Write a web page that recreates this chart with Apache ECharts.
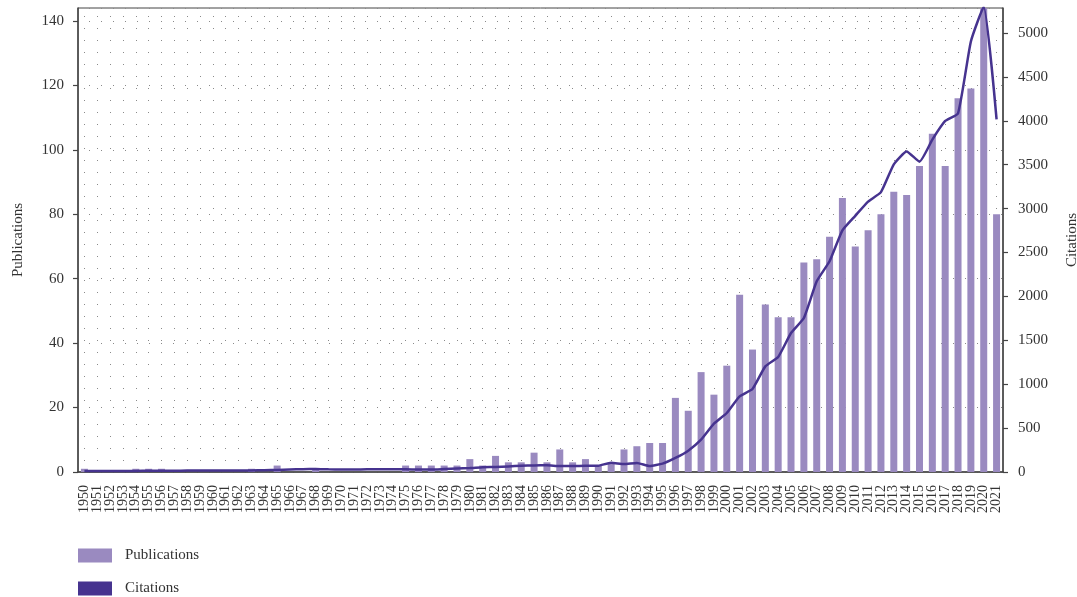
<!DOCTYPE html>
<html>
<head>
<meta charset="utf-8">
<script src="https://cdn.jsdelivr.net/npm/echarts@6/dist/echarts.min.js"></script>
<style>
html,body{margin:0;padding:0;background:#fff;}
#chart{width:1077px;height:597px;}
</style>
</head>
<body>
<div id="chart"></div>
<script>
const years = ['1950','1951','1952','1953','1954','1955','1956','1957','1958','1959',
  '1960','1961','1962','1963','1964','1965','1966','1967','1968','1969',
  '1970','1971','1972','1973','1974','1975','1976','1977','1978','1979',
  '1980','1981','1982','1983','1984','1985','1986','1987','1988','1989',
  '1990','1991','1992','1993','1994','1995','1996','1997','1998','1999',
  '2000','2001','2002','2003','2004','2005','2006','2007','2008','2009',
  '2010','2011','2012','2013','2014','2015','2016','2017','2018','2019',
  '2020','2021'];

const publications = [1,0,0,0,1,1,1,0,0,0,
  0,0,0,1,0,2,0,0,1,0,
  0,0,0,0,0,2,2,2,2,2,
  4,2,5,3,3,6,3,7,3,4,
  2,3,7,8,9,9,23,19,31,24,
  33,55,38,52,48,48,65,66,73,85,
  70,75,80,87,86,95,105,95,116,119,
  144,80];

const citations = [12,10,10,10,12,14,15,15,16,16,
  17,17,17,18,20,24,28,32,34,30,
  28,28,30,32,32,30,28,28,34,40,
  45,55,57,64,70,75,76,68,68,70,
  72,105,90,103,68,95,160,243,368,550,
  672,862,945,1203,1310,1583,1754,2172,2400,2752,
  2918,3080,3188,3504,3651,3535,3786,3998,4086,4904,
  5300,4017];

const seriesNames = ['Publications', 'Citations'];

// helper axis: half-steps so grid dots fall on category centres
const halfSteps = [];
years.forEach(function (y) { halfSteps.push(y + 'a'); halfSteps.push(y + 'b'); });
halfSteps.push('end');

const FONT = 'Liberation Serif';
const barColor = '#9a8ac0';
const lineColor = '#46338f';

const chart = echarts.init(document.getElementById('chart'), null, {renderer: 'canvas'});
chart.setOption({
  animation: false,
  backgroundColor: '#fff',
  textStyle: {fontFamily: FONT},
  grid: {left: 78, right: 74, top: 8, bottom: 125, show: true, borderColor: '#444', borderWidth: 1,
         containLabel: false, outerBoundsMode: 'none'},
  legend: {
    orient: 'vertical', left: 78, top: 548,
    padding: 0,
    itemWidth: 34, itemHeight: 14, itemGap: 18,
    icon: 'rect',
    textStyle: {fontFamily: FONT, fontSize: 15, color: '#333', padding: [0, 0, 0, 8]},
    data: seriesNames
  },
  xAxis: [{
    type: 'category',
    data: years,
    boundaryGap: true,
    axisLine: {lineStyle: {color: '#444', width: 1.5}},
    axisTick: {alignWithLabel: true, interval: 0, length: 5, lineStyle: {color: '#444', width: 1.2}},
    axisLabel: {interval: 0, rotate: 90, fontSize: 14, color: '#333', fontFamily: FONT, margin: 13},
    splitLine: {show: false}
  }, {
    type: 'category',
    data: halfSteps,
    boundaryGap: false,
    position: 'bottom',
    axisLine: {show: false},
    axisTick: {show: false},
    axisLabel: {show: false},
    splitLine: {
      show: true,
      interval: function (i) { return i % 2 === 1; },
      lineStyle: {color: '#8a8a8a', width: 1, type: [1, 11], dashOffset: 4}
    }
  }],
  yAxis: [{
    type: 'value',
    name: 'Publications',
    nameLocation: 'middle',
    nameGap: 52,
    nameRotate: 90,
    nameTextStyle: {fontFamily: FONT, fontSize: 15, color: '#333'},
    min: 0, max: 144, interval: 20,
    axisLine: {show: true, lineStyle: {color: '#444', width: 1.5}},
    axisTick: {show: true, length: 5, lineStyle: {color: '#444', width: 1.2}},
    axisLabel: {fontSize: 15, color: '#333', fontFamily: FONT, margin: 14, showMaxLabel: false},
    splitLine: {show: true, lineStyle: {color: '#8a8a8a', width: 1, type: [1, 11], dashOffset: 1}}
  }, {
    type: 'value',
    name: 'Citations',
    nameLocation: 'middle',
    nameGap: 62,
    nameRotate: 90,
    nameTextStyle: {fontFamily: FONT, fontSize: 15, color: '#333'},
    position: 'right',
    min: 0, max: 5285, interval: 500,
    axisLine: {show: true, lineStyle: {color: '#444', width: 1.5}},
    axisTick: {show: true, length: 5, lineStyle: {color: '#444', width: 1.2}},
    axisLabel: {fontSize: 15, color: '#333', fontFamily: FONT, margin: 15, showMaxLabel: false,
                formatter: function (v) { return String(v); }},
    splitLine: {show: false}
  }],
  series: [{
    name: seriesNames[0],
    type: 'bar',
    xAxisIndex: 0,
    yAxisIndex: 0,
    barWidth: 7,
    itemStyle: {color: barColor},
    data: publications
  }, {
    name: seriesNames[1],
    type: 'line',
    xAxisIndex: 0,
    yAxisIndex: 1,
    smooth: 0.15,
    showSymbol: false,
    symbol: 'none',
    lineStyle: {color: lineColor, width: 2.5},
    itemStyle: {color: lineColor},
    data: citations
  }]
});
</script>
</body>
</html>
